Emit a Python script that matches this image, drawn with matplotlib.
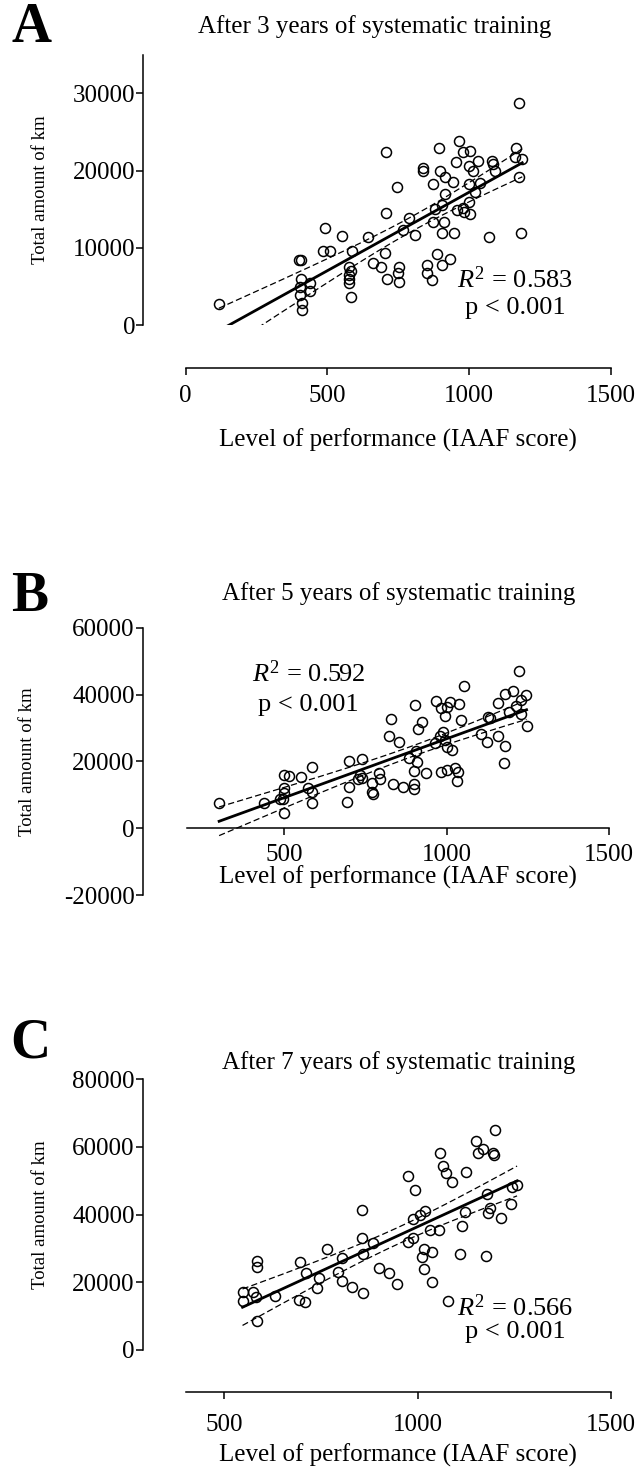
import matplotlib
matplotlib.use('Agg')
import matplotlib.pyplot as plt
import numpy as np

plt.rcParams['font.family'] = ['Liberation Serif', 'DejaVu Serif']
plt.rcParams['mathtext.fontset'] = 'custom'
plt.rcParams['mathtext.rm'] = 'Liberation Serif'
plt.rcParams['mathtext.it'] = 'Liberation Serif:italic'
plt.rcParams['axes.unicode_minus'] = False

# values (IAAF score, total km)
a_x = [117, 1177, 705, 963, 893, 977, 1003, 1166, 1162, 1187, 953, 1032, 998, 1015, 1079, 1085, 1092, 837, 837, 898,
       916, 942, 873, 746, 998, 1038, 1176, 1022, 915, 998, 905, 878, 956, 977, 983, 1003, 707, 789, 873, 910,
       767, 492, 550, 644, 809, 905, 946, 1071, 1183, 483, 509, 585, 703, 885, 400, 406, 662, 688, 577, 582,
       753, 850, 903, 932, 750, 850, 577, 577, 577, 709, 752, 870, 583, 408, 438, 438, 403, 402, 409, 409]
a_y = [2680, 28800, 22450, 23880, 22970, 22450, 22500, 22970, 21800, 21500, 21110, 21200, 20600, 19990, 21260, 20850,
       19990, 20380, 19990, 19950, 19210, 18570, 18220, 17880, 18220, 18430, 19210, 17230, 17010, 15930, 15540, 15030,
       14850, 15110, 14590, 14330, 14550, 13820, 13380, 13380, 12310, 12600, 11530, 11360, 11620, 11870, 11960, 11360,
       11960, 9540, 9630, 9540, 9370, 9150, 8420, 8420, 8070, 7470, 7560, 7040, 7560, 7770, 7770, 8550, 6690, 6690,
       6480, 5960, 5400, 5920, 5610, 5830, 3580, 5920, 5400, 4400, 4960, 3890, 2890, 1940]

b_x = [299, 1223, 1054, 1179, 1205, 1243, 1159, 1229, 1215, 1193, 1228, 1246, 1128, 1133, 1105, 1123, 1158, 1179, 1177,
       903, 966, 984, 1000, 1010, 1039, 995, 1043, 924, 911, 827, 823, 853, 989, 979, 964, 995, 1000, 1015, 905, 885,
       907, 900, 935, 983, 1000, 1025, 1036, 1033, 900, 900, 866, 834, 700, 738, 733, 738, 728, 699, 692, 771,
       771, 772, 791, 795, 584, 550, 500, 515, 574, 584, 584, 500, 500, 487, 497, 437, 500]
b_y = [7650, 47030, 42540, 40150, 41140, 39850, 37550, 38350, 36560, 34860, 34070, 30580, 33180, 32880, 28190, 25890,
       27590, 24600, 19430, 36860, 38060, 36060, 36360, 37760, 37060, 33570, 32380, 31870, 29600, 32580, 27590, 25710,
       28880, 27590, 25410, 26410, 24400, 23410, 23210, 20930, 19910, 17220, 16440, 16940, 17440, 17940, 16740, 14230,
       13150, 11660, 12450, 13250, 20210, 20630, 15930, 14950, 14650, 12450, 7950, 13450, 10940, 10250, 16440, 14740,
       18420, 15240, 15930, 15640, 11960, 10760, 7470, 11960, 10460, 8670, 8670, 7650, 4660]

c_x = [1201, 1152, 1156, 1168, 1194, 1197, 1057, 1066, 1072, 1088, 1124, 974, 993, 855, 1243, 1257, 1178, 1187, 1182,
       1215, 1241, 1122, 1114, 987, 1006, 1019, 1033, 1055, 988, 974, 1017, 1037, 1012, 1017, 1037, 1109, 1176, 1079,
       855, 858, 885, 900, 926, 947, 858, 831, 805, 805, 795, 766, 695, 710, 745, 739, 693, 708, 631, 584, 584, 549,
       575, 582, 547, 585]
c_y = [64990, 61840, 58110, 59290, 58110, 57620, 58310, 54360, 52380, 49540, 52680, 51400, 47270, 41360, 48250, 48740,
       46090, 41860, 40560, 38900, 43040, 40860, 36720, 38610, 39880, 41060, 35450, 35450, 33180, 31810, 29740, 29050,
       27570, 23930, 20000, 28360, 27870, 14560, 33180, 28360, 31520, 24130, 22840, 19410, 16750, 18520, 20380, 27270,
       23130, 29840, 25910, 22660, 21360, 18230, 14770, 14270, 15950, 26380, 24610, 17220, 17220, 15560, 14560, 8570]

titles = ['After 3 years of systematic training', 'After 5 years of systematic training',
          'After 7 years of systematic training']
r2_labels = ['0.583', '0.592', '0.566']
T95 = 1.99  # t value, ~78 df

W, H = 639, 1475
fig = plt.figure(figsize=(W / 100, H / 100), dpi=100)


def px(x0, y_top, x1, y_bot):
    return [x0 / W, 1 - y_bot / H, (x1 - x0) / W, (y_bot - y_top) / H]


def panel(rect, x, y, xlim, ylim, yticks, xticks, left_out, bottom_pos, xpad, xlabelpad, ylabelpad, r2, txt_pos):
    ax = fig.add_axes(rect)
    x = np.array(x, dtype=float)
    y = np.array(y, dtype=float)
    ax.plot(x, y, 'o', mfc='none', mec='black', mew=1.1, ms=7.2)

    # linear fit with 95% confidence band
    slope, icpt = np.polyfit(x, y, 1)
    n = len(x)
    resid = y - (slope * x + icpt)
    s = np.sqrt(np.sum(resid ** 2) / (n - 2))
    xx = np.linspace(x.min(), x.max(), 200)
    yy = slope * xx + icpt
    se = s * np.sqrt(1 / n + (xx - x.mean()) ** 2 / np.sum((x - x.mean()) ** 2))
    ax.plot(xx, yy, color='black', lw=2.0)
    ax.plot(xx, yy + T95 * se, color='black', lw=0.9, ls=(0, (5, 2.5)))
    ax.plot(xx, yy - T95 * se, color='black', lw=0.9, ls=(0, (5, 2.5)))

    ax.set_xlim(xlim)
    ax.set_ylim(ylim)
    ax.set_xticks(xticks)
    ax.set_yticks(yticks)
    ax.spines['top'].set_visible(False)
    ax.spines['right'].set_visible(False)
    ax.spines['left'].set_position(('outward', left_out))
    ax.spines['bottom'].set_position(bottom_pos)
    for sp in ('left', 'bottom'):
        ax.spines[sp].set_linewidth(1.1)
    ax.tick_params(direction='out', length=5, width=1.1, labelsize=18)
    ax.tick_params(axis='y', pad=1)
    ax.tick_params(axis='x', pad=xpad)
    ax.set_xlabel('Level of performance (IAAF score)', fontsize=18, labelpad=xlabelpad)
    ax.set_ylabel('Total amount of km', fontsize=13.5, labelpad=ylabelpad)
    ax.patch.set_visible(False)

    tx, ty1, ty2 = txt_pos
    ax.text(tx, ty1, r'$R^2$ = ' + r2, transform=ax.transAxes, ha='center', va='center', fontsize=19)
    ax.text(tx, ty2, 'p < 0.001', transform=ax.transAxes, ha='center', va='center', fontsize=19)
    return ax


panel(px(185.7, 54.8, 611, 325), a_x, a_y, (0, 1500), (0, 35000), [0, 10000, 20000, 30000],
      [0, 500, 1000, 1500], 30.5, ('outward', 31), 7.5, 15, 17, r2_labels[0], (0.774, 0.168, 0.063))
panel(px(187, 627.7, 609, 895.2), b_x, b_y, (200, 1500), (-20000, 60000), [-20000, 0, 20000, 40000, 60000],
      [500, 1000, 1500], 31.7, ('data', 0), 6, 0, 20, r2_labels[1], (0.288, 0.830, 0.711))
panel(px(185.7, 1079.3, 611, 1350), c_x, c_y, (400, 1500), (0, 80000), [0, 20000, 40000, 60000, 80000],
      [500, 1000, 1500], 30.7, ('outward', 30.2), 11, 5, 17, r2_labels[2], (0.774, 0.155, 0.066))

# panel titles and letters
for (tx, ty), t in zip([(374.5, 27), (399, 594), (399, 1063)], titles):
    fig.text(tx / W, 1 - ty / H, t, ha='center', va='center', fontsize=18)
for (lx, ly), l in zip([(31, 27.5), (29.5, 597), (30, 1043)], ['A', 'B', 'C']):
    fig.text(lx / W, 1 - ly / H, l, ha='center', va='center', fontsize=40, fontweight='bold')

fig.savefig('out.png', dpi=100)
